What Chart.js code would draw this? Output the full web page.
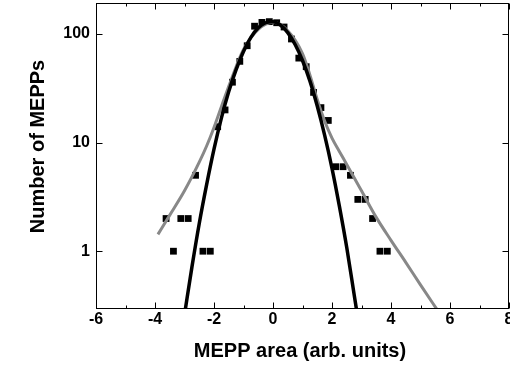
<!DOCTYPE html>
<html>
<head>
<meta charset="utf-8">
<script src="https://cdn.jsdelivr.net/npm/chart.js@4.4.1/dist/chart.umd.min.js"></script>
<style>
  html, body { margin: 0; padding: 0; background: #fff; }
</style>
</head>
<body>
<canvas id="meppChart" width="510" height="367"></canvas>
<script>
(function () {
  // Histogram bins (MEPP area) and counts
  const BIN_X = [-3.625, -3.375, -3.125, -2.875, -2.625, -2.375, -2.125, -1.875, -1.625, -1.375,
    -1.125, -0.875, -0.625, -0.375, -0.125, 0.125, 0.375, 0.625, 0.875, 1.125,
    1.375, 1.625, 1.875, 2.125, 2.375, 2.625, 2.875, 3.125, 3.375, 3.625, 3.875];
  const COUNTS = [2, 1, 2, 2, 5, 1, 1, 14, 20, 36,
    56, 78, 118, 128, 130, 127, 116, 90, 60, 50,
    29, 21, 16, 6, 6, 5, 3, 3, 2, 1, 1];

  // Narrow fit (black)
  const BLACK_X = [-3.0, -2.75, -2.5, -2.25, -2.0, -1.75, -1.5, -1.25, -1.0, -0.75, -0.5, -0.25,
    0, 0.25, 0.5, 0.75, 1.0, 1.25, 1.5, 1.75, 2.0, 2.25, 2.5, 2.75, 2.9];
  const BLACK_Y = [0.26, 0.71, 1.8, 4.1, 8.7, 16.8, 29.5, 47, 69, 93, 114, 127,
    130, 121, 103, 80, 57, 37, 21.7, 11.7, 5.8, 2.6, 1.08, 0.40, 0.22];

  // Wide fit (grey)
  const GRAY_X = [-3.9, -3.5, -3.0, -2.5, -2.25, -2.0, -1.75, -1.5, -1.25, -1.0, -0.5, 0, 0.5,
    1.0, 1.25, 1.5, 1.75, 2.0, 2.25, 2.5, 3.0, 3.5, 4.0, 4.5, 5.0, 5.6];
  const GRAY_Y = [1.43, 2.15, 3.6, 6.6, 9.3, 13.8, 21.4, 33, 50, 72, 110, 128, 107,
    66, 42, 25, 15.8, 11, 8.3, 6.3, 3.6, 2.05, 1.26, 0.79, 0.49, 0.28];

  const X_TICKS = [-6, -5, -4, -3, -2, -1, 0, 1, 2, 3, 4, 5, 6, 7, 8];
  const Y_TICKS = [1, 10, 100];

  const FONT = '"Liberation Sans", Arial, sans-serif';
  const pts = (xs, ys) => xs.map((x, i) => ({ x: x, y: ys[i] }));

  // Frame, inward ticks and axis titles
  const framePlugin = {
    id: 'frame',
    afterDraw(chart) {
      const { ctx, chartArea: a, scales: { x, y } } = chart;
      ctx.save();
      ctx.strokeStyle = '#000';
      ctx.lineWidth = 1;
      const L = a.left + 0.5, R = a.right - 0.5, T = Math.round(a.top) + 0.5, B = a.bottom + 0.5;
      ctx.strokeRect(L, T, R - L, B - T);
      ctx.beginPath();
      X_TICKS.forEach(v => {
        const px = Math.round(x.getPixelForValue(v)) + 0.5;
        const len = v % 2 === 0 ? 6 : 3;
        ctx.moveTo(px, B); ctx.lineTo(px, B - len);
        ctx.moveTo(px, T); ctx.lineTo(px, T + len);
      });
      Y_TICKS.forEach(v => {
        const py = Math.round(y.getPixelForValue(v)) + 0.5;
        ctx.moveTo(L, py); ctx.lineTo(L + 6, py);
        ctx.moveTo(R, py); ctx.lineTo(R - 6, py);
      });
      ctx.stroke();

      ctx.fillStyle = '#000';
      ctx.font = 'bold 20px ' + FONT;
      ctx.textAlign = 'center';
      ctx.textBaseline = 'alphabetic';
      ctx.fillText('MEPP area (arb. units)', 300, 357);
      ctx.translate(44, 146.5);
      ctx.rotate(-Math.PI / 2);
      ctx.fillText('Number of MEPPs', 0, 0);
      ctx.restore();
    },
  };

  const tickFont = { family: FONT, size: 16, weight: 'bold' };

  // keep the plot box fixed: no extra room for edge labels
  const noPad = s => { s.paddingTop = 0; s.paddingBottom = 0; s.paddingLeft = 0; s.paddingRight = 0; };

  new Chart(document.getElementById('meppChart'), {
    type: 'scatter',
    data: {
      datasets: [
        {
          label: 'narrow fit',
          data: pts(BLACK_X, BLACK_Y),
          showLine: true,
          borderColor: '#000',
          borderWidth: 3.5,
          pointRadius: 0,
          cubicInterpolationMode: 'monotone',
          clip: 0,
          order: 0,
        },
        {
          label: 'wide fit',
          data: pts(GRAY_X, GRAY_Y),
          showLine: true,
          borderColor: '#888888',
          borderWidth: 3,
          pointRadius: 0,
          cubicInterpolationMode: 'monotone',
          clip: 0,
          order: 1,
        },
        {
          label: 'MEPPs',
          data: pts(BIN_X, COUNTS),
          pointStyle: 'rect',
          pointRadius: 4.8,
          backgroundColor: '#000',
          borderWidth: 0,
          order: 2,
        },
      ],
    },
    options: {
      responsive: false,
      animation: false,
      layout: { autoPadding: false, padding: { top: 3, right: 1, left: 0, bottom: 0 } },
      plugins: { legend: { display: false }, tooltip: { enabled: false } },
      scales: {
        x: {
          type: 'linear',
          min: -6,
          max: 8,
          afterBuildTicks: s => { s.ticks = X_TICKS.map(v => ({ value: v })); },
          afterFit: s => { s.height = 59; noPad(s); },
          grid: { display: false, drawTicks: false },
          border: { display: false },
          ticks: {
            color: '#000', font: tickFont, padding: 2, maxRotation: 0, autoSkip: false,
            callback: v => (v % 2 === 0 ? String(v) : ''),
          },
        },
        y: {
          type: 'logarithmic',
          min: 0.3,
          max: 193,
          afterBuildTicks: s => { s.ticks = Y_TICKS.map(v => ({ value: v })); },
          afterFit: s => { s.width = 96; noPad(s); },
          grid: { display: false, drawTicks: false },
          border: { display: false },
          ticks: { color: '#000', font: tickFont, padding: 6, autoSkip: false, callback: v => String(v) },
        },
      },
    },
    plugins: [framePlugin],
  });
})();
</script>
</body>
</html>
